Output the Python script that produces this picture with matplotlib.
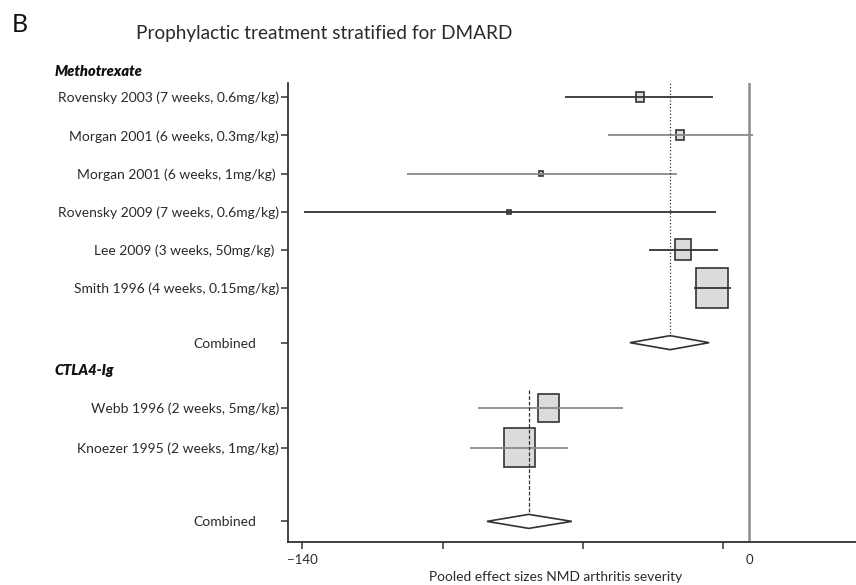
import matplotlib
matplotlib.use("Agg")
import matplotlib.pyplot as plt
import matplotlib.transforms as mtransforms
from matplotlib.patches import Rectangle, Polygon
import numpy as np

plt.rcParams["font.family"] = ["Lato", "DejaVu Sans"]

# study level data (effect size, 95% CI, weight % within subgroup)
studies = [
    "Rovensky 2003 (7 weeks, 0.6mg/kg)",
    "Morgan 2001 (6 weeks, 0.3mg/kg)",
    "Morgan 2001 (6 weeks, 1mg/kg)",
    "Rovensky 2009 (7 weeks, 0.6mg/kg)",
    "Lee 2009 (3 weeks, 50mg/kg)",
    "Smith 1996 (4 weeks, 0.15mg/kg)",
    "Webb 1996 (2 weeks, 5mg/kg)",
    "Knoezer 1995 (2 weeks, 1mg/kg)",
]
group_of = [0, 0, 0, 0, 0, 0, 1, 1]
means = [-34.1, -21.6, -65.1, -75.2, -20.7, -11.6, -62.8, -71.9]
ci_low = [-57.6, -44.2, -107.1, -139.5, -31.4, -17.1, -85.0, -87.3]
ci_high = [-11.3, 1.2, -22.6, -10.5, -9.8, -5.6, -39.6, -56.6]
weights = [4.4, 4.4, 1.1, 0.7, 19.3, 70.1, 34.0, 66.0]

groups = ["Methotrexate", "CTLA4-Ig"]
pooled_mean = [-24.7, -69.0]
pooled_low = [-37.3, -82.1]
pooled_high = [-12.5, -55.5]

x_ticks = [-140, -96, -52, -8]
x_ticklabels = ["\u2212140", "", "", ""]

# layout
row_pos = [0, 1, 2, 3, 4, 5, 8.13, 9.18]
pooled_pos = [6.43, 11.11]
header_pos = [-0.68, 7.15]
ref_top = [-0.45, 7.67]
line_col = ["#333333", "#8a8a8a", "#8a8a8a", "#333333", "#333333", "#333333", "#8a8a8a", "#8a8a8a"]
label_shift_px = [0, 0, 3, 0, 5, 0, 0, 0]
dark = "#333333"
txt = "#2a2a2a"

W, H = 856, 585
fig = plt.figure(figsize=(W / 100, H / 100), dpi=100)
ax = fig.add_axes([288 / W, 43 / H, 1 - 288 / W, (542 - 83) / H])
ax.set_xlim(-144.4, 33.5)
ax.set_ylim(11.65, -0.37)

# pixels per data unit, used for box sizes
px_x = ax.bbox.width / (33.5 + 144.4)
px_y = ax.bbox.height / (11.65 + 0.37)

for s in ["top", "right"]:
    ax.spines[s].set_visible(False)
for s in ["left", "bottom"]:
    ax.spines[s].set_color(dark)
    ax.spines[s].set_linewidth(1.3)

# zero line
ax.axvline(0, color="#8c8c8c", lw=1.8, zorder=1)

# study boxes and CIs
for i in range(len(studies)):
    h_px = 4.8 * np.sqrt(weights[i])
    w_px = 0.78 * h_px
    bw, bh = w_px / px_x, h_px / px_y
    ax.add_patch(Rectangle((means[i] - bw / 2, row_pos[i] - bh / 2), bw, bh,
                           facecolor="#dcdcdc", edgecolor=dark, lw=1.2, zorder=2))
    ax.plot([ci_low[i], ci_high[i]], [row_pos[i], row_pos[i]],
            color=line_col[i], lw=1.3, zorder=3, solid_capstyle="butt")

# pooled diamonds and reference lines
dh = 7 / px_y
for g in range(len(groups)):
    m, y = pooled_mean[g], pooled_pos[g]
    ax.add_patch(Polygon([[pooled_low[g], y], [m, y - dh], [pooled_high[g], y], [m, y + dh]],
                         closed=True, facecolor="white", edgecolor=dark, lw=1.2, zorder=3))
    ls = ":" if g == 0 else (0, (3, 1.5))
    ax.plot([m, m], [ref_top[g], y - dh], color=dark, lw=0.9, ls=ls, zorder=4)

# y ticks / labels
yt = row_pos + pooled_pos
yl = studies + ["Combined", "Combined"]
ax.set_yticks(yt)
ax.set_yticklabels(yl, fontsize=10, color=txt)
ax.tick_params(axis="y", direction="out", length=5, width=1.1, color=dark, pad=1.5)
shifts = label_shift_px + [23, 23]
for lab, sh in zip(ax.get_yticklabels(), shifts):
    if sh:
        lab.set_transform(lab.get_transform() + mtransforms.ScaledTranslation(-sh / 100, 0, fig.dpi_scale_trans))

# x ticks
ax.set_xticks(x_ticks)
ax.set_xticklabels(x_ticklabels, fontsize=9.5, color=txt)
ax.set_xticks([0], ["0"], minor=True, fontsize=9.5, color=txt)
ax.tick_params(axis="x", which="major", direction="out", length=5, width=1.1, color=dark, pad=4)
ax.tick_params(axis="x", which="minor", length=0, pad=9)

# group headers
tr = mtransforms.blended_transform_factory(fig.transFigure, ax.transData)
for g in range(len(groups)):
    ax.text(55 / W, header_pos[g], groups[g], transform=tr, fontsize=10.5,
            fontweight="heavy", fontstyle="italic", ha="left", va="center", color="#111111")

fig.text(556 / W, 1 - 577 / H, "Pooled effect sizes NMD arthritis severity",
         ha="center", va="center", fontsize=9.9, color=txt)
fig.text(136 / W, 1 - 33 / H, "Prophylactic treatment stratified for DMARD",
         ha="left", va="center", fontsize=13.7, color=txt)
fig.text(12 / W, 1 - 24 / H, "B", ha="left", va="center", fontsize=18, color="#111111")

fig.savefig("out.png", dpi=100)
